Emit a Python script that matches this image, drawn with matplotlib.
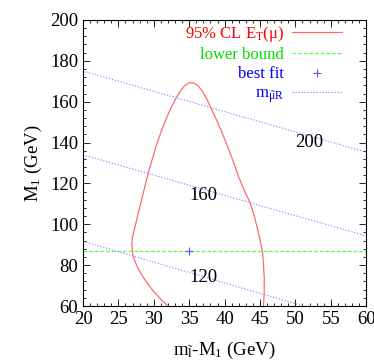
import matplotlib
matplotlib.use('Agg')
import matplotlib.pyplot as plt
from matplotlib.ticker import MultipleLocator

plt.rcParams['font.family'] = ['Liberation Serif', 'DejaVu Serif']
plt.rcParams['mathtext.fontset'] = 'custom'
plt.rcParams['mathtext.rm'] = 'Liberation Serif'
plt.rcParams['mathtext.it'] = 'Liberation Serif:italic'

FS = 13.5

# 95% CL contour of E_T(mu)
cl_x = [32.0, 31.0, 30.0, 29.2, 28.5, 28.0, 27.6, 27.2, 27.0, 26.9, 27.0, 27.3, 27.7,
        28.2, 28.7, 29.2, 29.8, 30.4, 31.1, 31.8, 32.5, 33.2, 33.8, 34.4, 35.0, 35.6,
        36.2, 36.9, 37.6, 38.2, 39.0, 39.8, 40.6, 41.3, 42.0, 42.8, 43.6, 44.2, 44.7,
        45.1, 45.4, 45.5, 45.6, 45.6, 45.5]
cl_y = [60.0, 63.3, 67.0, 70.7, 74.0, 77.0, 79.7, 83.0, 86.0, 90.0, 94.0, 98.0, 104.0,
        111.0, 118.0, 125.0, 132.0, 139.0, 146.0, 152.0, 157.5, 162.0, 165.5, 168.0, 169.3, 169.2,
        168.0, 165.0, 160.5, 156.0, 150.0, 143.5, 136.5, 130.0, 123.0, 116.5, 110.6, 104.0, 97.0,
        91.0, 85.0, 80.0, 74.0, 67.0, 60.0]

lower_bound = 87.0
best_x, best_y = 35.0, 87.0

# constant m_muR lines
mr_values = ['120', '160', '200']
mr_x = [[20, 51.1], [20, 60], [20, 60]]
mr_y = [[91.7, 60], [134.0, 94.3], [175.0, 135.3]]
mr_label_x = [37.0, 37.0, 52.0]
mr_label_y = [74.0, 114.0, 140.0]

fig = plt.figure(figsize=(3.74, 3.63), dpi=100)
ax = fig.add_axes([0.222, 0.157, 0.757, 0.788])

ax.plot(cl_x, cl_y, color='#ff6a6a', lw=0.9, label=r'95% CL E$_\mathrm{T}$($\mathrm{\mu}$)')
ax.axhline(lower_bound, color='#55ff55', lw=0.9, ls=(0, (3, 1.5)), label='lower bound')
ax.plot([best_x], [best_y], ls='none', marker='+', color='#5555ff', ms=6, mew=0.8,
        label='best fit')
for i in range(len(mr_values)):
    ax.plot(mr_x[i], mr_y[i], color='#8c8cff', lw=0.8, ls=(0, (1.2, 1.5)),
            label=r'm$_{\tilde{\mathrm{\mu}}\mathrm{R}}$' if i == 0 else None)
    ax.text(mr_label_x[i], mr_label_y[i], mr_values[i], ha='center', va='center', fontsize=FS)

ax.set_xlim(20, 60)
ax.set_ylim(60, 200)
ax.xaxis.set_major_locator(MultipleLocator(5))
ax.xaxis.set_minor_locator(MultipleLocator(1))
ax.yaxis.set_major_locator(MultipleLocator(20))
ax.yaxis.set_minor_locator(MultipleLocator(4))
ax.tick_params(which='both', direction='in', top=True, right=True, labelsize=FS)
ax.tick_params(which='major', length=5, width=0.6)
ax.tick_params(which='minor', length=2.5, width=0.6)
for s in ax.spines.values():
    s.set_linewidth(0.8)

ax.set_xlabel(r'm$_{\tilde{\mathrm{l}}}$-M$_1$ (GeV)', fontsize=FS, labelpad=9)
ax.set_ylabel(r'M$_1$ (GeV)', fontsize=FS, labelpad=4)

leg = ax.legend(loc='upper right', bbox_to_anchor=(0.94, 1.01), frameon=False,
                markerfirst=False, fontsize=12, handlelength=3.05, handletextpad=0.45,
                labelspacing=0.2, borderaxespad=0.0,
                labelcolor=['red', '#00dd00', 'blue', 'blue'])

fig.savefig('out.png', dpi=100)
